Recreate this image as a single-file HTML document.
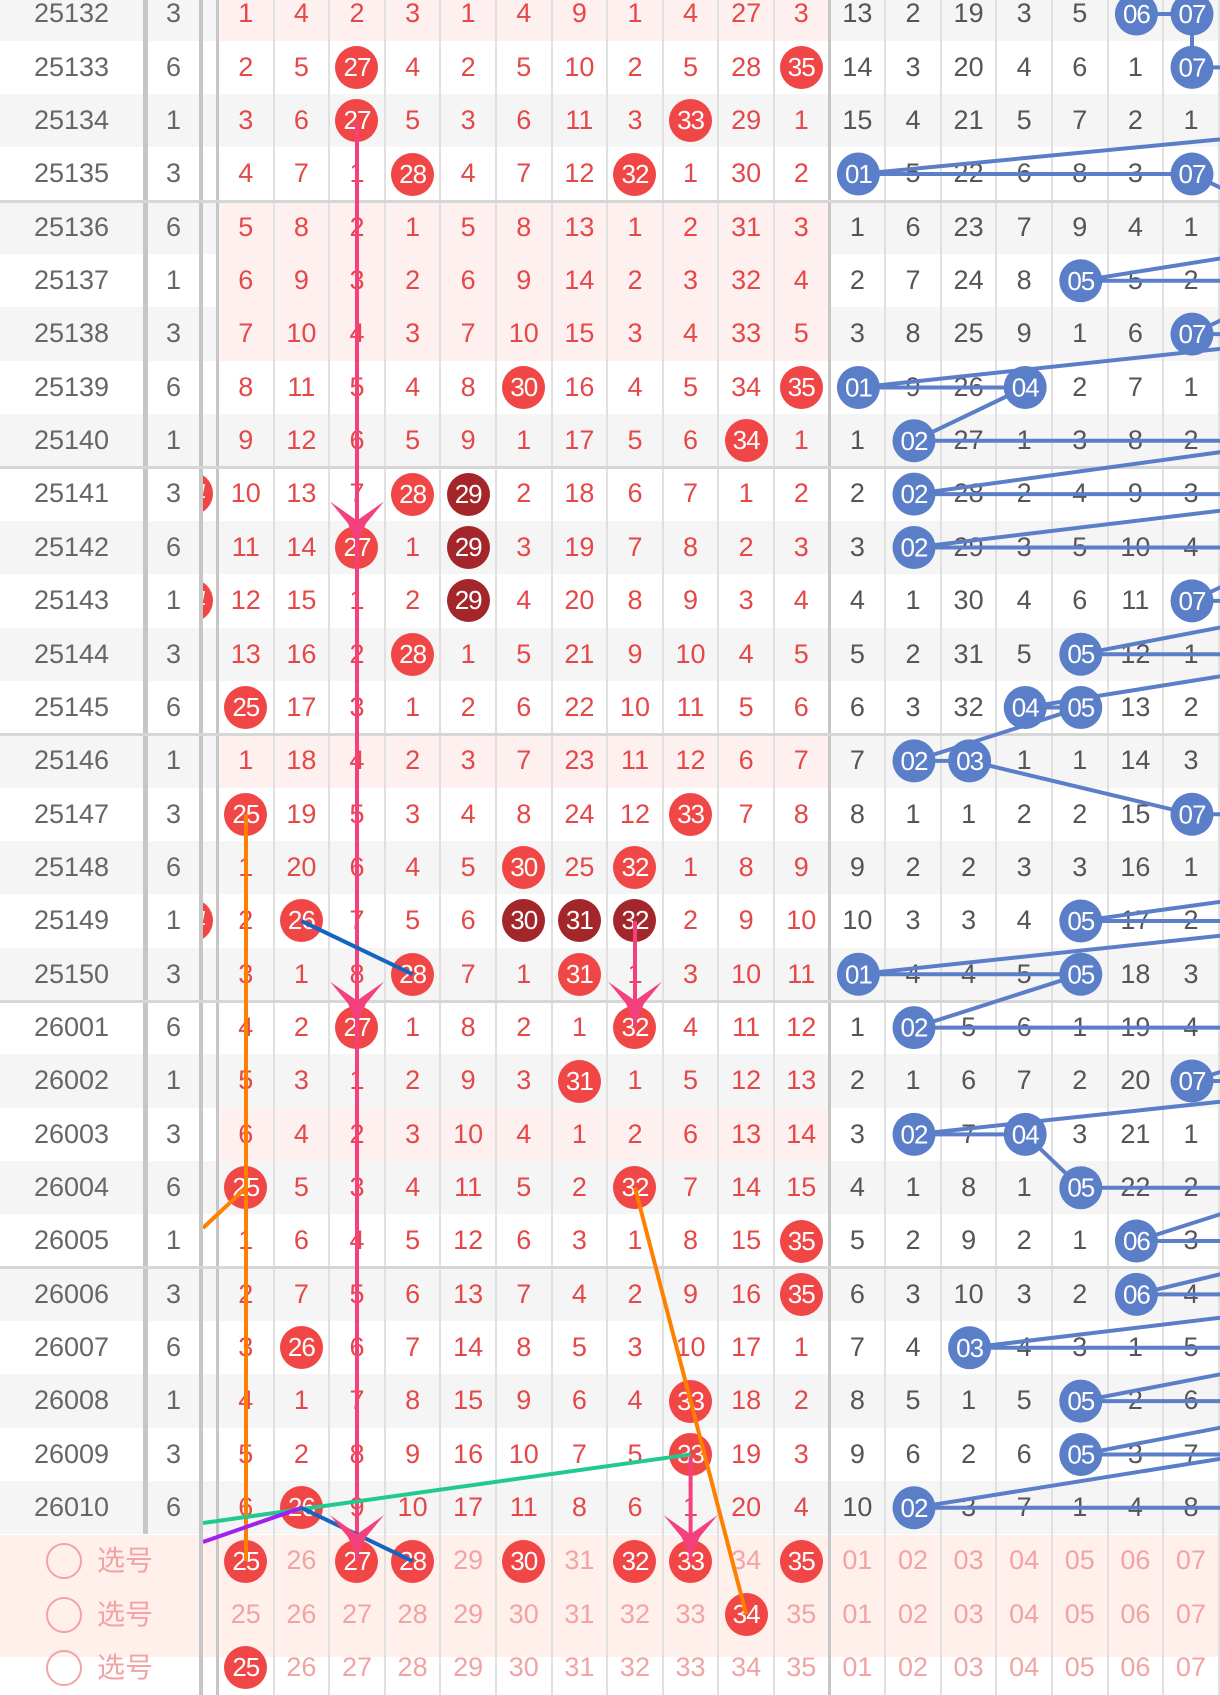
<!DOCTYPE html>
<html><head><meta charset="utf-8">
<style>
*{margin:0;padding:0;box-sizing:border-box}
body{width:1220px;height:1656px;overflow:hidden;background:#fff;font-family:"Liberation Sans","Noto Sans CJK SC",sans-serif;position:relative}
.row{position:absolute;left:0;width:1230px;height:53.35px;display:flex;font-size:27px;line-height:53.35px;text-align:center;background:#fff}
.row.g{background:#f5f5f5}
.row u{display:block;width:143px;color:#666;text-decoration:none;flex:none}
.row s{display:block;width:60px;border-left:5px solid #c6c6c6;border-right:4px solid #c6c6c6;text-decoration:none;color:#666;flex:none}
.row em{display:block;width:16px;border-right:3px solid #c6c6c6;position:relative;overflow:hidden;flex:none}
.row em b{position:absolute;left:-33px;top:5px}
.row p{display:flex;flex:none}
.row p.rd{width:611.6px}
.row p.rd.pk{background:#fff0f0}
.row i{font-style:normal;width:55.6px;flex:none;border-right:2px solid #e0e0e0;display:flex;align-items:center;justify-content:center;color:#e54848}
.row p.rd i:last-child{border-right:3px solid #c6c6c6}
.row p.bl i{color:#555}
b{display:inline-block;width:43px;height:43px;border-radius:50%;background:#f04646;color:#fff;line-height:43px;font-size:26px;font-weight:normal;text-align:center;letter-spacing:-1px}
b.d{background:#a3262a}
.sep{position:absolute;left:0;width:1220px;height:3px;background:#d6d6d6}
.bot{position:absolute;left:0;top:1534.5px;width:1220px;height:122px;background:#fff0ec}
.row.bt{background:transparent}
.row.bt s{border-left-color:transparent}
.row.bt i{color:#f2a3a3}
.row.bt p.bl i{color:#f2a3a3}
.row.bt u{display:flex;align-items:center;padding-left:46px;color:#f2a3a3;font-size:28px;white-space:nowrap;overflow:visible}
.ck{display:inline-block;flex:none;width:36px;height:36px;border:2px solid #f2a3a3;border-radius:50%;margin-right:15px}
svg{position:absolute;left:0;top:0}
</style></head><body>

<div class="row g" style="top:-12.67px"><u>25132</u><s>3</s><em></em><p class="rd pk"><i>1</i><i>4</i><i>2</i><i>3</i><i>1</i><i>4</i><i>9</i><i>1</i><i>4</i><i>27</i><i>3</i></p><p class="bl"><i>13</i><i>2</i><i>19</i><i>3</i><i>5</i><i></i><i></i></p></div>
<div class="row" style="top:40.68px"><u>25133</u><s>6</s><em></em><p class="rd"><i>2</i><i>5</i><i><b>27</b></i><i>4</i><i>2</i><i>5</i><i>10</i><i>2</i><i>5</i><i>28</i><i><b>35</b></i></p><p class="bl"><i>14</i><i>3</i><i>20</i><i>4</i><i>6</i><i>1</i><i></i></p></div>
<div class="row g" style="top:94.03px"><u>25134</u><s>1</s><em></em><p class="rd"><i>3</i><i>6</i><i><b>27</b></i><i>5</i><i>3</i><i>6</i><i>11</i><i>3</i><i><b>33</b></i><i>29</i><i>1</i></p><p class="bl"><i>15</i><i>4</i><i>21</i><i>5</i><i>7</i><i>2</i><i>1</i></p></div>
<div class="row" style="top:147.38px"><u>25135</u><s>3</s><em></em><p class="rd"><i>4</i><i>7</i><i>1</i><i><b>28</b></i><i>4</i><i>7</i><i>12</i><i><b>32</b></i><i>1</i><i>30</i><i>2</i></p><p class="bl"><i></i><i>5</i><i>22</i><i>6</i><i>8</i><i>3</i><i></i></p></div>
<div class="row g" style="top:200.73px"><u>25136</u><s>6</s><em></em><p class="rd pk"><i>5</i><i>8</i><i>2</i><i>1</i><i>5</i><i>8</i><i>13</i><i>1</i><i>2</i><i>31</i><i>3</i></p><p class="bl"><i>1</i><i>6</i><i>23</i><i>7</i><i>9</i><i>4</i><i>1</i></p></div>
<div class="row" style="top:254.08px"><u>25137</u><s>1</s><em></em><p class="rd pk"><i>6</i><i>9</i><i>3</i><i>2</i><i>6</i><i>9</i><i>14</i><i>2</i><i>3</i><i>32</i><i>4</i></p><p class="bl"><i>2</i><i>7</i><i>24</i><i>8</i><i></i><i>5</i><i>2</i></p></div>
<div class="row g" style="top:307.43px"><u>25138</u><s>3</s><em></em><p class="rd pk"><i>7</i><i>10</i><i>4</i><i>3</i><i>7</i><i>10</i><i>15</i><i>3</i><i>4</i><i>33</i><i>5</i></p><p class="bl"><i>3</i><i>8</i><i>25</i><i>9</i><i>1</i><i>6</i><i></i></p></div>
<div class="row" style="top:360.78px"><u>25139</u><s>6</s><em></em><p class="rd"><i>8</i><i>11</i><i>5</i><i>4</i><i>8</i><i><b>30</b></i><i>16</i><i>4</i><i>5</i><i>34</i><i><b>35</b></i></p><p class="bl"><i></i><i>9</i><i>26</i><i></i><i>2</i><i>7</i><i>1</i></p></div>
<div class="row g" style="top:414.13px"><u>25140</u><s>1</s><em></em><p class="rd"><i>9</i><i>12</i><i>6</i><i>5</i><i>9</i><i>1</i><i>17</i><i>5</i><i>6</i><i><b>34</b></i><i>1</i></p><p class="bl"><i>1</i><i></i><i>27</i><i>1</i><i>3</i><i>8</i><i>2</i></p></div>
<div class="row" style="top:467.48px"><u>25141</u><s>3</s><em><b>24</b></em><p class="rd"><i>10</i><i>13</i><i>7</i><i><b>28</b></i><i><b class="d">29</b></i><i>2</i><i>18</i><i>6</i><i>7</i><i>1</i><i>2</i></p><p class="bl"><i>2</i><i></i><i>28</i><i>2</i><i>4</i><i>9</i><i>3</i></p></div>
<div class="row g" style="top:520.83px"><u>25142</u><s>6</s><em></em><p class="rd"><i>11</i><i>14</i><i><b>27</b></i><i>1</i><i><b class="d">29</b></i><i>3</i><i>19</i><i>7</i><i>8</i><i>2</i><i>3</i></p><p class="bl"><i>3</i><i></i><i>29</i><i>3</i><i>5</i><i>10</i><i>4</i></p></div>
<div class="row" style="top:574.18px"><u>25143</u><s>1</s><em><b>24</b></em><p class="rd"><i>12</i><i>15</i><i>1</i><i>2</i><i><b class="d">29</b></i><i>4</i><i>20</i><i>8</i><i>9</i><i>3</i><i>4</i></p><p class="bl"><i>4</i><i>1</i><i>30</i><i>4</i><i>6</i><i>11</i><i></i></p></div>
<div class="row g" style="top:627.53px"><u>25144</u><s>3</s><em></em><p class="rd"><i>13</i><i>16</i><i>2</i><i><b>28</b></i><i>1</i><i>5</i><i>21</i><i>9</i><i>10</i><i>4</i><i>5</i></p><p class="bl"><i>5</i><i>2</i><i>31</i><i>5</i><i></i><i>12</i><i>1</i></p></div>
<div class="row" style="top:680.88px"><u>25145</u><s>6</s><em></em><p class="rd"><i><b>25</b></i><i>17</i><i>3</i><i>1</i><i>2</i><i>6</i><i>22</i><i>10</i><i>11</i><i>5</i><i>6</i></p><p class="bl"><i>6</i><i>3</i><i>32</i><i></i><i></i><i>13</i><i>2</i></p></div>
<div class="row g" style="top:734.23px"><u>25146</u><s>1</s><em></em><p class="rd pk"><i>1</i><i>18</i><i>4</i><i>2</i><i>3</i><i>7</i><i>23</i><i>11</i><i>12</i><i>6</i><i>7</i></p><p class="bl"><i>7</i><i></i><i></i><i>1</i><i>1</i><i>14</i><i>3</i></p></div>
<div class="row" style="top:787.58px"><u>25147</u><s>3</s><em></em><p class="rd"><i><b>25</b></i><i>19</i><i>5</i><i>3</i><i>4</i><i>8</i><i>24</i><i>12</i><i><b>33</b></i><i>7</i><i>8</i></p><p class="bl"><i>8</i><i>1</i><i>1</i><i>2</i><i>2</i><i>15</i><i></i></p></div>
<div class="row g" style="top:840.93px"><u>25148</u><s>6</s><em></em><p class="rd"><i>1</i><i>20</i><i>6</i><i>4</i><i>5</i><i><b>30</b></i><i>25</i><i><b>32</b></i><i>1</i><i>8</i><i>9</i></p><p class="bl"><i>9</i><i>2</i><i>2</i><i>3</i><i>3</i><i>16</i><i>1</i></p></div>
<div class="row" style="top:894.28px"><u>25149</u><s>1</s><em><b>24</b></em><p class="rd"><i>2</i><i><b>26</b></i><i>7</i><i>5</i><i>6</i><i><b class="d">30</b></i><i><b class="d">31</b></i><i><b class="d">32</b></i><i>2</i><i>9</i><i>10</i></p><p class="bl"><i>10</i><i>3</i><i>3</i><i>4</i><i></i><i>17</i><i>2</i></p></div>
<div class="row g" style="top:947.63px"><u>25150</u><s>3</s><em></em><p class="rd"><i>3</i><i>1</i><i>8</i><i><b>28</b></i><i>7</i><i>1</i><i><b>31</b></i><i>1</i><i>3</i><i>10</i><i>11</i></p><p class="bl"><i></i><i>4</i><i>4</i><i>5</i><i></i><i>18</i><i>3</i></p></div>
<div class="row" style="top:1000.98px"><u>26001</u><s>6</s><em></em><p class="rd"><i>4</i><i>2</i><i><b>27</b></i><i>1</i><i>8</i><i>2</i><i>1</i><i><b>32</b></i><i>4</i><i>11</i><i>12</i></p><p class="bl"><i>1</i><i></i><i>5</i><i>6</i><i>1</i><i>19</i><i>4</i></p></div>
<div class="row g" style="top:1054.33px"><u>26002</u><s>1</s><em></em><p class="rd"><i>5</i><i>3</i><i>1</i><i>2</i><i>9</i><i>3</i><i><b>31</b></i><i>1</i><i>5</i><i>12</i><i>13</i></p><p class="bl"><i>2</i><i>1</i><i>6</i><i>7</i><i>2</i><i>20</i><i></i></p></div>
<div class="row" style="top:1107.68px"><u>26003</u><s>3</s><em></em><p class="rd pk"><i>6</i><i>4</i><i>2</i><i>3</i><i>10</i><i>4</i><i>1</i><i>2</i><i>6</i><i>13</i><i>14</i></p><p class="bl"><i>3</i><i></i><i>7</i><i></i><i>3</i><i>21</i><i>1</i></p></div>
<div class="row g" style="top:1161.03px"><u>26004</u><s>6</s><em></em><p class="rd"><i><b>25</b></i><i>5</i><i>3</i><i>4</i><i>11</i><i>5</i><i>2</i><i><b>32</b></i><i>7</i><i>14</i><i>15</i></p><p class="bl"><i>4</i><i>1</i><i>8</i><i>1</i><i></i><i>22</i><i>2</i></p></div>
<div class="row" style="top:1214.38px"><u>26005</u><s>1</s><em></em><p class="rd"><i>1</i><i>6</i><i>4</i><i>5</i><i>12</i><i>6</i><i>3</i><i>1</i><i>8</i><i>15</i><i><b>35</b></i></p><p class="bl"><i>5</i><i>2</i><i>9</i><i>2</i><i>1</i><i></i><i>3</i></p></div>
<div class="row g" style="top:1267.73px"><u>26006</u><s>3</s><em></em><p class="rd"><i>2</i><i>7</i><i>5</i><i>6</i><i>13</i><i>7</i><i>4</i><i>2</i><i>9</i><i>16</i><i><b>35</b></i></p><p class="bl"><i>6</i><i>3</i><i>10</i><i>3</i><i>2</i><i></i><i>4</i></p></div>
<div class="row" style="top:1321.08px"><u>26007</u><s>6</s><em></em><p class="rd"><i>3</i><i><b>26</b></i><i>6</i><i>7</i><i>14</i><i>8</i><i>5</i><i>3</i><i>10</i><i>17</i><i>1</i></p><p class="bl"><i>7</i><i>4</i><i></i><i>4</i><i>3</i><i>1</i><i>5</i></p></div>
<div class="row g" style="top:1374.43px"><u>26008</u><s>1</s><em></em><p class="rd"><i>4</i><i>1</i><i>7</i><i>8</i><i>15</i><i>9</i><i>6</i><i>4</i><i><b>33</b></i><i>18</i><i>2</i></p><p class="bl"><i>8</i><i>5</i><i>1</i><i>5</i><i></i><i>2</i><i>6</i></p></div>
<div class="row" style="top:1427.78px"><u>26009</u><s>3</s><em></em><p class="rd"><i>5</i><i>2</i><i>8</i><i>9</i><i>16</i><i>10</i><i>7</i><i>5</i><i><b>33</b></i><i>19</i><i>3</i></p><p class="bl"><i>9</i><i>6</i><i>2</i><i>6</i><i></i><i>3</i><i>7</i></p></div>
<div class="row g" style="top:1481.13px"><u>26010</u><s>6</s><em></em><p class="rd"><i>6</i><i><b>26</b></i><i>9</i><i>10</i><i>17</i><i>11</i><i>8</i><i>6</i><i>1</i><i>20</i><i>4</i></p><p class="bl"><i>10</i><i></i><i>3</i><i>7</i><i>1</i><i>4</i><i>8</i></p></div>

<div class="bot"></div>
<div class="row bt" style="top:1534.48px"><u><span class="ck"></span>选号</u><s></s><em></em><p class="rd"><i><b>25</b></i><i>26</i><i><b>27</b></i><i><b>28</b></i><i>29</i><i><b>30</b></i><i>31</i><i><b>32</b></i><i><b>33</b></i><i>34</i><i><b>35</b></i></p><p class="bl"><i>01</i><i>02</i><i>03</i><i>04</i><i>05</i><i>06</i><i>07</i></p></div>
<div class="row bt" style="top:1587.83px"><u><span class="ck"></span>选号</u><s></s><em></em><p class="rd"><i>25</i><i>26</i><i>27</i><i>28</i><i>29</i><i>30</i><i>31</i><i>32</i><i>33</i><i><b>34</b></i><i>35</i></p><p class="bl"><i>01</i><i>02</i><i>03</i><i>04</i><i>05</i><i>06</i><i>07</i></p></div>
<div class="row bt" style="top:1641.18px"><u><span class="ck"></span>选号</u><s></s><em></em><p class="rd"><i><b>25</b></i><i>26</i><i>27</i><i>28</i><i>29</i><i>30</i><i>31</i><i>32</i><i>33</i><i>34</i><i>35</i></p><p class="bl"><i>01</i><i>02</i><i>03</i><i>04</i><i>05</i><i>06</i><i>07</i></p></div>

<div class="sep" style="top:199.5px"></div>
<div class="sep" style="top:466px"></div>
<div class="sep" style="top:732.7px"></div>
<div class="sep" style="top:999.5px"></div>
<div class="sep" style="top:1266.2px"></div>

<svg width="1220" height="1656" viewBox="0 0 1220 1656">
<defs><clipPath id="cr"><rect x="203" y="0" width="1017" height="1656"/></clipPath>
<clipPath id="cb"><rect x="833" y="0" width="387" height="1656"/></clipPath></defs>
<g clip-path="url(#cb)">
<polyline fill="none" stroke="#5b7ec8" stroke-width="4" points="1136.4,14 1192,14 1192,67.35 1303.2,67.35 1358.8,120.7 1414.4,120.7 858.4,174.05 1192,174.05 1303.2,227.4 1414.4,227.4 1080.8,280.75 1303.2,280.75 1192,334.1 1358.8,334.1 858.4,387.45 1025.2,387.45 914,440.8 1303.2,440.8 914,494.15 1358.8,494.15 914,547.5 1303.2,547.5 1192,600.85 1358.8,600.85 1080.8,654.2 1358.8,654.2 1025.2,707.55 1080.8,707.55 914,760.9 969.6,760.9 1192,814.25 1414.4,814.25 1303.2,867.6 1470,867.6 1080.8,920.95 1358.8,920.95 858.4,974.3 1080.8,974.3 914,1027.65 1358.8,1027.65 1192,1081 1414.4,1081 914,1134.35 1025.2,1134.35 1080.8,1187.7 1303.2,1187.7 1136.4,1241.05 1358.8,1241.05 1136.4,1294.4 1414.4,1294.4 969.6,1347.75 1358.8,1347.75 1080.8,1401.1 1358.8,1401.1 1080.8,1454.45 1247.6,1454.45 914,1507.8 1303.2,1507.8"/>
</g>
<g fill="#5b7ec8">
<circle cx="1136.4" cy="14" r="21.5"/><circle cx="1192" cy="14" r="21.5"/><circle cx="1192" cy="67.35" r="21.5"/>
<circle cx="858.4" cy="174.05" r="21.5"/><circle cx="1192" cy="174.05" r="21.5"/>
<circle cx="1080.8" cy="280.75" r="21.5"/><circle cx="1192" cy="334.1" r="21.5"/>
<circle cx="858.4" cy="387.45" r="21.5"/><circle cx="1025.2" cy="387.45" r="21.5"/>
<circle cx="914" cy="440.8" r="21.5"/><circle cx="914" cy="494.15" r="21.5"/><circle cx="914" cy="547.5" r="21.5"/>
<circle cx="1192" cy="600.85" r="21.5"/><circle cx="1080.8" cy="654.2" r="21.5"/>
<circle cx="1025.2" cy="707.55" r="21.5"/><circle cx="1080.8" cy="707.55" r="21.5"/>
<circle cx="914" cy="760.9" r="21.5"/><circle cx="969.6" cy="760.9" r="21.5"/>
<circle cx="1192" cy="814.25" r="21.5"/><circle cx="1080.8" cy="920.95" r="21.5"/>
<circle cx="858.4" cy="974.3" r="21.5"/><circle cx="1080.8" cy="974.3" r="21.5"/>
<circle cx="914" cy="1027.65" r="21.5"/><circle cx="1192" cy="1081" r="21.5"/>
<circle cx="914" cy="1134.35" r="21.5"/><circle cx="1025.2" cy="1134.35" r="21.5"/>
<circle cx="1080.8" cy="1187.7" r="21.5"/><circle cx="1136.4" cy="1241.05" r="21.5"/><circle cx="1136.4" cy="1294.4" r="21.5"/>
<circle cx="969.6" cy="1347.75" r="21.5"/><circle cx="1080.8" cy="1401.1" r="21.5"/><circle cx="1080.8" cy="1454.45" r="21.5"/>
<circle cx="914" cy="1507.8" r="21.5"/>
</g>
<g fill="#fff" font-family="Liberation Sans, sans-serif" font-size="26" text-anchor="middle" letter-spacing="-1">
<text x="1136.4" y="23">06</text><text x="1192" y="23">07</text><text x="1192" y="76.35">07</text>
<text x="858.4" y="183.05">01</text><text x="1192" y="183.05">07</text>
<text x="1080.8" y="289.75">05</text><text x="1192" y="343.1">07</text>
<text x="858.4" y="396.45">01</text><text x="1025.2" y="396.45">04</text>
<text x="914" y="449.8">02</text><text x="914" y="503.15">02</text><text x="914" y="556.5">02</text>
<text x="1192" y="609.85">07</text><text x="1080.8" y="663.2">05</text>
<text x="1025.2" y="716.55">04</text><text x="1080.8" y="716.55">05</text>
<text x="914" y="769.9">02</text><text x="969.6" y="769.9">03</text>
<text x="1192" y="823.25">07</text><text x="1080.8" y="929.95">05</text>
<text x="858.4" y="983.3">01</text><text x="1080.8" y="983.3">05</text>
<text x="914" y="1036.65">02</text><text x="1192" y="1090">07</text>
<text x="914" y="1143.35">02</text><text x="1025.2" y="1143.35">04</text>
<text x="1080.8" y="1196.7">05</text><text x="1136.4" y="1250.05">06</text><text x="1136.4" y="1303.4">06</text>
<text x="969.6" y="1356.75">03</text><text x="1080.8" y="1410.1">05</text><text x="1080.8" y="1463.45">05</text>
<text x="914" y="1516.8">02</text>
</g>
<g clip-path="url(#cr)" stroke-width="4" fill="none">
<line x1="357" y1="120.7" x2="357" y2="1561" stroke="#f5407e"/>
<line x1="635" y1="920.95" x2="635" y2="1027.65" stroke="#f5407e"/>
<line x1="690.6" y1="1454.45" x2="690.6" y2="1561" stroke="#f5407e"/>
<line x1="246" y1="814.25" x2="246" y2="1561.15" stroke="#ff7f00"/>
<line x1="203" y1="1228" x2="246" y2="1187.7" stroke="#ff7f00"/>
<line x1="635" y1="1187.7" x2="746.2" y2="1614.5" stroke="#ff7f00"/>
<line x1="203" y1="1523" x2="690.6" y2="1454.45" stroke="#22c98f"/>
<line x1="203" y1="1542" x2="301.4" y2="1507.8" stroke="#a020f0"/>
<line x1="301.4" y1="920.95" x2="412.6" y2="974.3" stroke="#1565c0"/>
<line x1="301.4" y1="1507.8" x2="412.6" y2="1561.15" stroke="#1565c0"/>
</g>
<g fill="#f5407e">
<polygon transform="translate(357,547.5)" points="-27,-46 0,-27 27,-46 9,-24 0,-3 -9,-24"/>
<polygon transform="translate(357,1027.65)" points="-27,-46 0,-27 27,-46 9,-24 0,-3 -9,-24"/>
<polygon transform="translate(357,1561.15)" points="-27,-46 0,-27 27,-46 9,-24 0,-3 -9,-24"/>
<polygon transform="translate(635,1027.65)" points="-27,-46 0,-27 27,-46 9,-24 0,-3 -9,-24"/>
<polygon transform="translate(690.6,1561.15)" points="-27,-46 0,-27 27,-46 9,-24 0,-3 -9,-24"/>
</g>
</svg>
</body></html>
